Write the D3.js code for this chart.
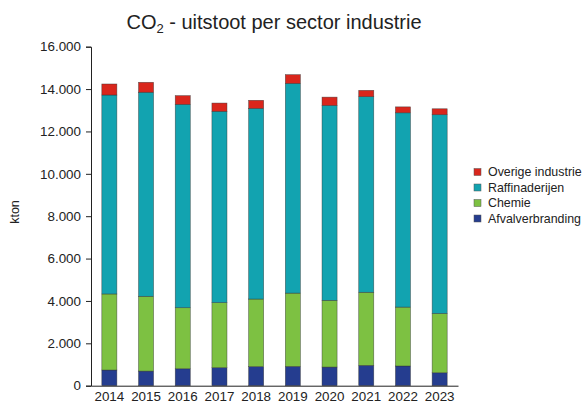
<!DOCTYPE html>
<html><head><meta charset="utf-8">
<script src="https://cdn.jsdelivr.net/npm/d3@7"></script>
<style>body{margin:0;background:#fff;font-family:Arial,"Liberation Sans",sans-serif}</style>
</head><body><svg id="c" width="584" height="408"></svg>
<script>
const years = ["2014","2015","2016","2017","2018","2019","2020","2021","2022","2023"];
const afvalverbranding = [740,690,800,850,900,910,880,960,930,610];
const chemie = [3590,3530,2880,3070,3190,3460,3150,3450,2780,2800];
const raffinaderijen = [9390,9630,9600,9030,9000,9900,9200,9230,9170,9380];
const overige = [520,470,410,390,380,410,390,300,280,280];
const seriesNames = ["Afvalverbranding","Chemie","Raffinaderijen","Overige industrie"];
const colors = ["#253d8f","#7dc142","#12a3b0","#d9261c"];
const yTicks = [0,2000,4000,6000,8000,10000,12000,14000,16000];

const rows = years.map((y,i)=>({year:y,a:afvalverbranding[i],c:chemie[i],r:raffinaderijen[i],o:overige[i]}));
const keys = ["a","c","r","o"];
const stack = d3.stack().keys(keys)(rows);

const FONT = "Arial, 'Liberation Sans', sans-serif";
const svg = d3.select("#c").attr("font-family",FONT);
const x = d3.scaleBand().domain(years).range([91,458]).paddingInner(0.59).paddingOuter(0.295);
const y = d3.scaleLinear().domain([0,16000]).range([385.7,46.7]);
const fmt = d => d3.format(",")(d).replace(/,/g,".");

svg.append("g").selectAll("g").data(stack).join("g")
  .attr("fill",(d,i)=>colors[i])
  .selectAll("rect").data(d=>d).join("rect")
  .attr("x",d=>x(d.data.year)).attr("width",x.bandwidth())
  .attr("y",d=>y(d[1])).attr("height",d=>y(d[0])-y(d[1]))
  .attr("stroke","#333").attr("stroke-width",0.6).attr("stroke-opacity",0.7);

const ya = svg.append("g").attr("transform","translate(91,0)")
  .call(d3.axisLeft(y).tickValues(yTicks).tickFormat(fmt).tickSize(5).tickPadding(5));
ya.select(".domain").attr("stroke","#222");
ya.selectAll(".tick line").attr("stroke","#222");
ya.selectAll("text").attr("font-size",13.4).attr("fill","#222").attr("font-family",FONT);

const xa = svg.append("g").attr("transform","translate(0,385.7)")
  .call(d3.axisBottom(x).tickSize(0).tickPadding(6));
xa.select(".domain").attr("stroke","#222");
xa.selectAll("text").attr("font-size",13.4).attr("fill","#222").attr("font-family",FONT);

const t = svg.append("text").attr("x",274).attr("y",29).attr("text-anchor","middle")
  .attr("font-size",20).attr("fill","#222");
t.append("tspan").text("CO");
t.append("tspan").text("2").attr("font-size",13).attr("dy",4);
t.append("tspan").text(" - uitstoot per sector industrie").attr("dy",-4);

svg.append("text").attr("transform","translate(19,212) rotate(-90)").attr("text-anchor","middle")
  .attr("font-size",12.5).attr("fill","#222").text("kton");

const legOrder = [3,2,1,0];
const lg = svg.append("g").selectAll("g").data(legOrder).join("g")
  .attr("transform",(d,i)=>`translate(474,${172+i*15.5})`);
lg.append("rect").attr("x",0).attr("y",-3.5).attr("width",7).attr("height",7)
  .attr("fill",d=>colors[d]).attr("stroke","#555").attr("stroke-width",0.5);
lg.append("text").attr("x",14).attr("y",4.3).attr("font-size",12.4).attr("fill","#222").text(d=>seriesNames[d]);
</script></body></html>
